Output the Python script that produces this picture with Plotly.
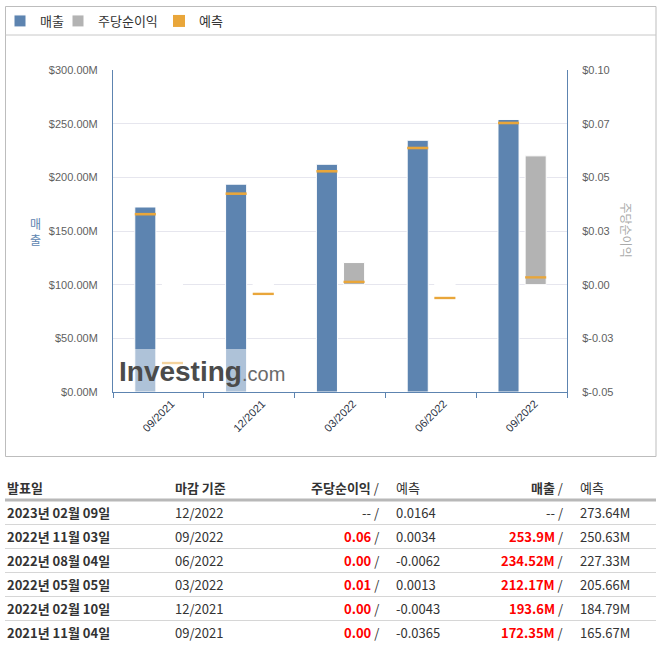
import plotly.graph_objects as go

# table rows, newest first (first row is the upcoming report)
report_dates = ["2023년 02월 09일", "2022년 11월 03일", "2022년 08월 04일",
                "2022년 05월 05일", "2022년 02월 10일", "2021년 11월 04일"]
report_periods = ["12/2022", "09/2022", "06/2022", "03/2022", "12/2021", "09/2021"]
eps_actual = [None, 0.06, 0.00, 0.0103, 0.00, 0.00]
eps_forecast = [0.0164, 0.0034, -0.0062, 0.0013, -0.0043, -0.0365]
revenue_actual = [None, 253.9, 234.52, 212.17, 193.6, 172.35]      # $M
revenue_forecast = [273.64, 250.63, 227.33, 205.66, 184.79, 165.67]  # $M

# chart uses the reported quarters, oldest first
quarters = report_periods[1:][::-1]
revenue = revenue_actual[1:][::-1]
revenue_est = revenue_forecast[1:][::-1]
eps = eps_actual[1:][::-1]
eps_est = eps_forecast[1:][::-1]

eps_ticks = [-0.05, -0.025, 0.0, 0.025, 0.05, 0.075, 0.1]

BLUE = "#5d84b0"
GRAY = "#b3b3b3"
ORANGE = "#e9a63a"
BAR_W = 0.232
REV_OFF = -0.26
EPS_OFF = 0.039
REV_THICK = 2.4      # forecast marker thickness ($M)
EPS_THICK = 0.0011   # forecast marker thickness ($)

W, H = 660, 650
L, R, T, B = 113, 93, 70, 258
PW, PH = W - L - R, H - T - B


def px(x):
    return (x - L) / PW


def py(y):
    return (H - B - y) / PH


fig = go.Figure()
fig.add_trace(go.Bar(
    x=quarters, y=revenue, name="매출", marker_color=BLUE,
    marker_line=dict(color="white", width=1),
    offset=REV_OFF, width=BAR_W, yaxis="y", legend="legend",
))
fig.add_trace(go.Bar(
    x=quarters, y=eps, name="주당순이익", marker_color=GRAY,
    marker_line=dict(color="white", width=1),
    offset=EPS_OFF, width=BAR_W, yaxis="y2", legend="legend2",
))
fig.add_trace(go.Bar(
    x=quarters, y=[REV_THICK] * len(quarters),
    base=[v - REV_THICK / 2 for v in revenue_est],
    name="예측", marker_color=ORANGE, marker_line_width=0,
    offset=REV_OFF, width=BAR_W, yaxis="y", legendgroup="est", legend="legend3",
))
fig.add_trace(go.Bar(
    x=quarters, y=[EPS_THICK] * len(quarters),
    base=[v - EPS_THICK / 2 for v in eps_est],
    name="예측", marker_color=ORANGE, marker_line_width=0,
    offset=EPS_OFF, width=BAR_W, yaxis="y2", legendgroup="est",
    showlegend=False,
))

tick_font = dict(family="Liberation Sans, Arial", size=11, color="#5f5f5f")


def legend_at(x):
    return dict(
        orientation="h", xref="container", yref="container",
        x=x / W, y=1 - 21 / H, xanchor="left", yanchor="middle",
        font=dict(size=13, color="#333"), bgcolor="rgba(0,0,0,0)",
    )


fig.update_layout(
    width=W, height=H,
    margin=dict(l=L, r=R, t=T, b=B, pad=0),
    paper_bgcolor="white", plot_bgcolor="white",
    barmode="overlay",
    font=dict(family="Noto Sans CJK KR", size=13, color="#333"),
    legend=legend_at(-8),
    legend2=legend_at(58),
    legend3=legend_at(159),
    xaxis=dict(
        type="category", categoryorder="array", categoryarray=quarters,
        showline=True, linecolor=BLUE, linewidth=1,
        ticks="outside", tickson="boundaries", ticklen=5, tickcolor=BLUE,
        tickangle=-45, ticklabelshift=13,
        tickfont=dict(family="Liberation Sans, Arial", size=11, color="#2c3344"),
        showgrid=False,
    ),
    yaxis=dict(
        range=[0, 300], dtick=50, tickprefix="$", tickformat=".2f", ticksuffix="M",
        showline=True, linecolor=BLUE, linewidth=1,
        gridcolor="#e6e6ee", gridwidth=1, zeroline=False,
        ticks="", ticklabelstandoff=12, tickfont=tick_font,
    ),
    yaxis2=dict(
        overlaying="y", side="right", range=[-0.05, 0.1],
        tickvals=eps_ticks, ticktext=[f"${v:.2f}" for v in eps_ticks],
        showline=True, linecolor=BLUE, linewidth=1,
        showgrid=False, zeroline=False,
        ticks="", ticklabelstandoff=12, tickfont=tick_font,
    ),
)

shapes = [
    # chart frame and legend separator
    dict(type="rect", xref="paper", yref="paper", x0=px(5.5), x1=px(656), y0=py(6.5), y1=py(456.5),
         line=dict(color="#bdbdbd", width=1), layer="below"),
    dict(type="line", xref="paper", yref="paper", x0=px(5.5), x1=px(656), y0=py(35), y1=py(35),
         line=dict(color="#c8c8c8", width=1)),
    # watermark veil
    dict(type="rect", xref="paper", yref="paper", x0=px(113), x1=px(283), y0=py(349), y1=py(392),
         fillcolor="rgba(255,255,255,0.5)", line=dict(width=0), layer="above"),
    # table header rule
    dict(type="line", xref="paper", yref="paper", x0=px(5), x1=px(656), y0=py(500), y1=py(500),
         line=dict(color="#b8b8b8", width=3)),
]
row_y = [512.5, 536.5, 560.5, 584.5, 608.5, 632.5]
for y in row_y[:-1]:
    shapes.append(dict(type="line", xref="paper", yref="paper", x0=px(5), x1=px(656),
                       y0=py(y + 12), y1=py(y + 12), line=dict(color="#d6d6d6", width=1)))
fig.update_layout(shapes=shapes)

ann = []


def txt(x, y, s, anchor="left", **kw):
    ann.append(dict(xref="paper", yref="paper", x=px(x), y=py(y), text=s, showarrow=False,
                    xanchor=anchor, yanchor="middle", **kw))


# axis titles
txt(35, 232, "매<br>출", anchor="center", font=dict(size=12, color=BLUE))
txt(626.5, 230, "주당순이익", anchor="center", textangle=90, font=dict(size=12, color="#aaaaaa"))

# watermark
txt(117, 371, "Investing", font=dict(family="Liberation Sans", size=28, color="#4b4b4b", weight="bold"))
txt(240, 374, ".com", font=dict(family="Liberation Sans", size=20, color="#6a6a6a"))

# table header
hy = 487
txt(5, hy, "<b>발표일</b>")
txt(173, hy, "<b>마감 기준</b>")
txt(381, hy, "<b>주당순이익</b> /", anchor="right")
txt(394, hy, "예측")
txt(565, hy, "<b>매출</b> /", anchor="right")
txt(578, hy, "예측")

red = "<span style='color:#ff0000'><b>{}</b></span> /"
for i, y in enumerate(row_y):
    txt(5, y, f"<b>{report_dates[i]}</b>")
    txt(173, y, report_periods[i])
    e = eps_actual[i]
    txt(381, y, "-- /" if e is None else red.format(f"{e:.2f}"), anchor="right")
    txt(394, y, f"{eps_forecast[i]:.4f}")
    r = revenue_actual[i]
    txt(565, y, "-- /" if r is None else red.format(f"{r:g}M"), anchor="right")
    txt(578, y, f"{revenue_forecast[i]:.2f}M")

fig.update_layout(annotations=ann)

# page body has an 8px default margin; drop it so the figure sits at the window corner
fig.write_html("out.html", config={"displayModeBar": False},
               post_script="document.body.style.margin = '0';")
